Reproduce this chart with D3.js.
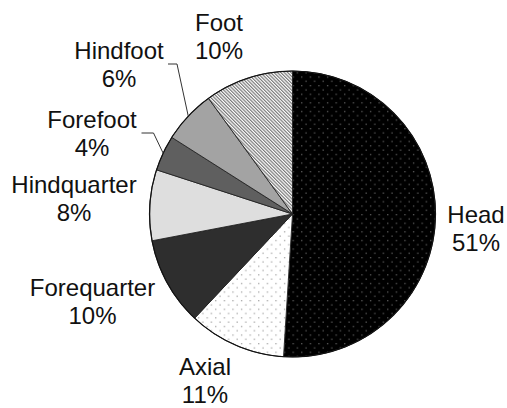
<!DOCTYPE html>
<html>
<head>
<meta charset="utf-8">
<script src="https://cdn.jsdelivr.net/npm/d3@7"></script>
<style>
  html, body { margin: 0; padding: 0; background: #fff; }
  svg { display: block; }
  .pie-label { font-family: 'Liberation Sans', Arial, sans-serif; font-size: 24px; fill: #111; }
</style>
</head>
<body>
<div id="chart"></div>
<script>
// chart data
const categories = ['Head', 'Axial', 'Forequarter', 'Hindquarter', 'Forefoot', 'Hindfoot', 'Foot'];
const values = [51, 11, 10, 8, 4, 6, 10];
const valueLabels = ['51%', '11%', '10%', '8%', '4%', '6%', '10%'];

const w = 507;
const h = 408;
const cx = 292.5;
const cy = 214;
const radius = 143;

// label block centres (annotation layout) and which ones get a leader
const labelPos = [[476, 228], [205, 380], [92.5, 301], [74, 198], [92, 133], [119, 64], [219, 36]];
const leaders = { Forefoot: [141.5, 133, 153.5], Hindfoot: [168, 64, 177] };

const svg = d3.select('#chart')
  .append('svg')
  .attr('width', w)
  .attr('height', h);

const defs = svg.append('defs');

function dotPattern(id, bg, fg, step, size) {
  const p = defs.append('pattern')
    .attr('id', id)
    .attr('patternUnits', 'userSpaceOnUse')
    .attr('width', step)
    .attr('height', step);
  p.append('rect').attr('width', step).attr('height', step).attr('fill', bg);
  p.append('rect').attr('x', 0).attr('y', 0).attr('width', size).attr('height', size).attr('fill', fg);
  p.append('rect').attr('x', step / 2).attr('y', step / 2).attr('width', size).attr('height', size).attr('fill', fg);
}

dotPattern('pHead', '#000', '#5a5a5a', 8.6, 1.3);
dotPattern('pAxial', '#fff', '#a8a8a8', 8.6, 1.3);
dotPattern('pForeq', '#111', '#4c4c4c', 2, 1);
dotPattern('pHindq', '#fff', '#bdbdbd', 2, 1);
dotPattern('pForef', '#393939', '#858585', 2, 1);
dotPattern('pHindf', '#7c7c7c', '#cacaca', 2, 1);

const stripe = defs.append('pattern')
  .attr('id', 'pFoot')
  .attr('patternUnits', 'userSpaceOnUse')
  .attr('width', 2.4)
  .attr('height', 2.4)
  .attr('patternTransform', 'rotate(-45)');
stripe.append('rect').attr('width', 2.4).attr('height', 2.4).attr('fill', '#fff');
stripe.append('rect').attr('width', 1.2).attr('height', 2.4).attr('fill', '#7a7a7a');

const fills = ['pHead', 'pAxial', 'pForeq', 'pHindq', 'pForef', 'pHindf', 'pFoot'];

const pie = d3.pie().sort(null).value(d => d);
const arcs = pie(values);
const arc = d3.arc().innerRadius(0).outerRadius(radius);

const g = svg.append('g').attr('transform', `translate(${cx},${cy})`);

g.selectAll('path')
  .data(arcs)
  .enter()
  .append('path')
  .attr('d', arc)
  .attr('fill', (d, i) => `url(#${fills[i]})`)
  .attr('stroke', '#222')
  .attr('stroke-width', 0.9)
  .attr('stroke-linejoin', 'round');

g.append('circle')
  .attr('r', radius)
  .attr('fill', 'none')
  .attr('stroke', '#111')
  .attr('stroke-width', 1.2);

// leader lines from label to slice edge
arcs.forEach((d, i) => {
  const lead = leaders[categories[i]];
  if (!lead) return;
  const mid = (d.startAngle + d.endAngle) / 2;
  const ex = cx + Math.sin(mid) * radius;
  const ey = cy - Math.cos(mid) * radius;
  svg.append('polyline')
    .attr('points', `${lead[0]},${lead[1]} ${lead[2]},${lead[1]} ${ex},${ey}`)
    .attr('fill', 'none')
    .attr('stroke', '#333')
    .attr('stroke-width', 1);
});

const labels = svg.selectAll('text.pie-label')
  .data(categories)
  .enter()
  .append('text')
  .attr('class', 'pie-label')
  .attr('text-anchor', 'middle')
  .attr('x', (d, i) => labelPos[i][0])
  .attr('y', (d, i) => labelPos[i][1]);

labels.append('tspan')
  .attr('x', (d, i) => labelPos[i][0])
  .attr('dy', '-0.22em')
  .text(d => d);

labels.append('tspan')
  .attr('x', (d, i) => labelPos[i][0])
  .attr('dy', '1.17em')
  .text((d, i) => valueLabels[i]);
</script>
</body>
</html>
